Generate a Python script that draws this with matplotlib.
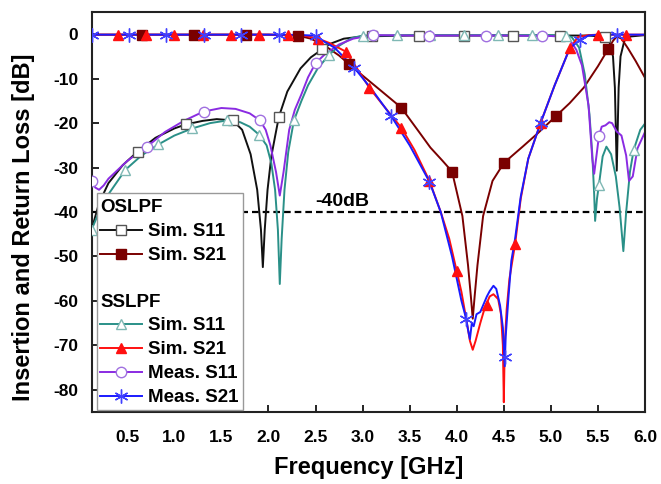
import matplotlib
matplotlib.use("Agg")
import matplotlib.pyplot as plt
from matplotlib.lines import Line2D
from matplotlib.patches import Rectangle
from matplotlib.font_manager import FontProperties

plt.rcParams['font.family'] = ['Liberation Sans', 'DejaVu Sans']
plt.rcParams['axes.unicode_minus'] = False

# ---------------- data ----------------
# OSLPF simulated S11 (black, open squares)
os_s11_f = [0.12, 0.2, 0.3, 0.45, 0.61, 0.8, 1.0, 1.12, 1.3, 1.45, 1.62, 1.72, 1.81, 1.88, 1.92, 1.94,
            1.96, 1.99, 2.03, 2.07, 2.11, 2.2, 2.34, 2.45, 2.57, 2.65, 2.8, 3.0, 3.5, 4.0, 4.5, 5.0,
            5.4, 5.58, 5.62, 5.66, 5.68, 5.70, 5.72, 5.74, 5.78, 5.85, 6.0]
os_s11_db = [-44, -38, -33.5, -29.5, -26.4, -23.3, -21.2, -20.3, -19.5, -19.1, -19.4, -21.5, -27, -35, -44, -52.4,
             -44, -35, -27.5, -23, -18.6, -12.9, -7.7, -5.2, -3.4, -2.2, -1.0, -0.5, -0.3, -0.3, -0.3, -0.3,
             -0.3, -0.6, -1.5, -5, -12, -30.7, -12, -5, -1.5, -0.5, -0.2]
os_s11_mk_f = [0.61, 1.12, 1.62, 2.11, 2.57, 3.1, 3.6, 4.08, 4.6, 5.1, 5.58]
os_s11_mk_db = [-26.4, -20.3, -19.4, -18.6, -3.4, -0.4, -0.3, -0.3, -0.3, -0.3, -0.6]

# OSLPF simulated S21 (dark red, filled squares)
os_s21_f = [0.12, 1.0, 2.0, 2.31, 2.45, 2.6, 2.75, 2.86, 3.0, 3.2, 3.41, 3.6, 3.72, 3.85, 3.95, 4.06,
            4.12, 4.15, 4.17, 4.19, 4.22, 4.28, 4.38, 4.50, 4.58, 4.70, 4.86, 5.05, 5.20, 5.35, 5.50,
            5.61, 5.66, 5.70, 5.75, 5.82, 5.90, 6.0]
os_s21_db = [-0.1, -0.1, -0.1, -0.3, -1.0, -2.6, -4.8, -6.8, -9.3, -12.8, -16.5, -22, -25.5, -28.5, -30.9, -40.9,
             -52, -59, -64, -59, -52, -40.9, -33, -29, -27.5, -25.3, -22.3, -18.5, -15.5, -12, -7.2,
             -3.3, -1.5, -0.5, -1.0, -3.2, -6, -9.8]
os_s21_mk_f = [0.66, 1.21, 1.76, 2.31, 2.86, 3.41, 3.95, 4.50, 5.05, 5.61]
os_s21_mk_db = [-0.1, -0.1, -0.1, -0.3, -6.8, -16.5, -30.9, -29, -18.5, -3.3]

# SSLPF simulated S11 (teal, open triangles)
ss_s11_f = [0.12, 0.2, 0.3, 0.48, 0.65, 0.83, 1.0, 1.19, 1.38, 1.56, 1.7, 1.8, 1.90, 1.98, 2.03, 2.07,
            2.10, 2.12, 2.14, 2.17, 2.21, 2.27, 2.35, 2.42, 2.52, 2.64, 2.75, 2.88, 3.0, 3.5, 4.0, 4.5,
            5.0, 5.15, 5.22, 5.30, 5.36, 5.41, 5.44, 5.46, 5.47, 5.49, 5.51, 5.55, 5.59, 5.64, 5.69,
            5.73, 5.77, 5.80, 5.84, 5.88, 5.95, 6.0]
ss_s11_db = [-44, -40, -36, -30.5, -27.3, -24.8, -22.8, -21.2, -20.0, -19.4, -19.8, -20.8, -22.6, -25, -29, -35,
             -44, -56.2, -46, -35, -26.5, -19.4, -15, -11.5, -7.8, -4.7, -2.6, -0.9, -0.3, -0.2, -0.2, -0.2,
             -0.2, -0.3, -0.6, -3, -9, -18, -27, -36, -42, -37, -34, -27.5, -25.3, -27, -32,
             -39, -48.8, -40, -31, -26, -21.5, -20.1]
ss_s11_mk_f = [0.12, 0.48, 0.83, 1.19, 1.56, 1.90, 2.27, 2.64, 3.0, 3.36, 3.72, 4.08, 4.44, 4.8, 5.16, 5.51, 5.88]
ss_s11_mk_db = [-44, -30.5, -24.8, -21.2, -19.4, -22.6, -19.4, -4.7, -0.3, -0.2, -0.2, -0.2, -0.2, -0.2, -0.3, -34, -26]

# SSLPF simulated S21 (red, filled triangles)
ss_s21_f = [0.12, 1.0, 2.0, 2.3, 2.4, 2.53, 2.65, 2.82, 2.95, 3.07, 3.2, 3.41, 3.55, 3.71, 3.83, 3.92,
            4.0, 4.05, 4.10, 4.14, 4.17, 4.20, 4.25, 4.30, 4.35, 4.39, 4.44, 4.47, 4.49, 4.50, 4.51,
            4.53, 4.56, 4.62, 4.68, 4.76, 4.89, 5.04, 5.20, 5.29, 5.4, 5.5, 6.0]
ss_s21_db = [-0.1, -0.1, -0.1, -0.2, -0.4, -1.0, -2.0, -3.9, -8, -12, -15.5, -21, -26, -33, -40, -46,
             -53.3, -58, -64, -69, -71, -69, -65, -61.4, -59, -58.5, -59.6, -63, -70, -82.8, -70,
             -62, -55, -47.2, -37, -28, -20, -11.5, -3.2, -0.6, -0.2, -0.1, -0.1]
ss_s21_mk_f = [0.4, 0.7, 1.0, 1.3, 1.6, 1.9, 2.21, 2.53, 2.82, 3.07, 3.41, 3.71, 4.0, 4.32, 4.62, 4.89, 5.20, 5.50, 5.80]
ss_s21_mk_db = [-0.1, -0.1, -0.1, -0.1, -0.1, -0.1, -0.2, -1.0, -3.9, -12, -21, -33, -53.3, -61, -47.2, -20, -3.2, -0.1, -0.1]

# SSLPF measured S11 (purple, open circles)
ms_s11_f = [0.12, 0.16, 0.2, 0.25, 0.3, 0.4, 0.5, 0.71, 0.9, 1.1, 1.31, 1.5, 1.65, 1.8, 1.91, 1.97,
            2.02, 2.08, 2.12, 2.16, 2.22, 2.28, 2.35, 2.42, 2.5, 2.6, 2.75, 2.9, 3.11, 3.5, 4.0, 4.5,
            5.0, 5.15, 5.2, 5.27, 5.33, 5.40, 5.44, 5.46, 5.49, 5.51, 5.54, 5.58, 5.62, 5.65, 5.70,
            5.75, 5.80, 5.83, 5.87, 5.92, 6.0]
ms_s11_db = [-33, -34.5, -35, -34, -32.5, -30.5, -28.5, -25.3, -22, -19.5, -17.4, -16.6, -16.8, -17.8, -19.4, -21.5,
             -25, -31, -36.3, -31, -21.5, -17, -13.5, -9.7, -6.5, -4.5, -2.3, -1.0, -0.2, -0.3, -0.3, -0.3,
             -0.4, -0.6, -1.2, -3.5, -7, -16, -28, -31.4, -26.4, -23, -20.8, -20.5, -19.8, -20, -21.9,
             -22.8, -27.3, -33, -32, -25.7, -22]
ms_s11_mk_f = [0.12, 0.71, 1.31, 1.91, 2.5, 3.11, 3.71, 4.31, 4.91, 5.51]
ms_s11_mk_db = [-33, -25.3, -17.4, -19.4, -6.5, -0.2, -0.3, -0.3, -0.3, -23]

# SSLPF measured S21 (blue, asterisks)
ms_s21_f = [0.12, 1.0, 2.0, 2.3, 2.48, 2.7, 2.91, 3.1, 3.30, 3.5, 3.71, 3.83, 3.95, 4.05, 4.10, 4.12,
            4.14, 4.16, 4.18, 4.21, 4.25, 4.28, 4.32, 4.35, 4.39, 4.42, 4.46, 4.49, 4.51, 4.52, 4.55,
            4.58, 4.62, 4.68, 4.76, 4.89, 5.04, 5.20, 5.31, 5.4, 5.5, 5.7, 6.0]
ms_s21_db = [-0.1, -0.1, -0.1, -0.15, -0.3, -3, -7.5, -12.5, -18.3, -25, -33.2, -40, -50, -60, -64, -66.5,
             -68.6, -65, -65.7, -63, -62.5, -61, -59, -57.8, -56.6, -57.3, -61, -66, -74.7, -68, -59,
             -51, -46, -36.5, -28, -20, -11.5, -3.2, -1.2, -0.3, -0.1, -0.1, -0.1]
ms_s21_mk_f = [0.13, 0.52, 0.91, 1.31, 1.71, 2.11, 2.50, 2.91, 3.30, 3.71, 4.10, 4.51, 4.89, 5.31, 5.70]
ms_s21_mk_db = [-0.1, -0.1, -0.1, -0.1, -0.1, -0.1, -0.3, -7.5, -18.3, -33.2, -64, -72.7, -20, -1.2, -0.1]

x_ticks = [0.5, 1.0, 1.5, 2.0, 2.5, 3.0, 3.5, 4.0, 4.5, 5.0, 5.5, 6.0]
x_ticklabels = ['0.5', '1.0', '1.5', '2.0', '2.5', '3.0', '3.5', '4.0', '4.5', '5.0', '5.5', '6.0']
y_ticks = [0, -10, -20, -30, -40, -50, -60, -70, -80]
y_ticklabels = ['0', '-10', '-20', '-30', '-40', '-50', '-60', '-70', '-80']
ref_level = -40

# ---------------- styles ----------------
C_BK = '#111111'
C_DR = '#7a0000'
C_TL = '#2a9088'
C_RD = '#ff1010'
C_PU = '#8a2be2'
C_BL = '#1a1aff'
ASTER = (6, 2, 0)

fig = plt.figure(figsize=(6.61, 4.84), dpi=100)
ax = fig.add_axes([92/661, 1-412/484, 553/661, 400/484])

series = [
    (os_s11_f, os_s11_db, os_s11_mk_f, os_s11_mk_db, C_BK, 's', 'white', '#555555', 6.5),
    (os_s21_f, os_s21_db, os_s21_mk_f, os_s21_mk_db, C_DR, 's', C_DR, C_DR, 6.5),
    (ss_s11_f, ss_s11_db, ss_s11_mk_f, ss_s11_mk_db, C_TL, '^', 'white', '#7fb8b4', 7.5),
    (ss_s21_f, ss_s21_db, ss_s21_mk_f, ss_s21_mk_db, C_RD, '^', C_RD, C_RD, 7.5),
    (ms_s11_f, ms_s11_db, ms_s11_mk_f, ms_s11_mk_db, C_PU, 'o', 'white', '#a070e0', 7.5),
    (ms_s21_f, ms_s21_db, ms_s21_mk_f, ms_s21_mk_db, C_BL, ASTER, C_BL, '#4040ff', 10),
]
handles = []
for f, d, mf, md, c, m, fc, ec, ms in series:
    ax.plot(f, d, color=c, lw=1.4, zorder=2)
    ax.plot(mf, md, ls='none', marker=m, ms=ms, mfc=fc, mec=ec, mew=1.0, zorder=3)
    handles.append(Line2D([], [], color=c, lw=1.4, marker=m, ms=ms, mfc=fc, mec=ec, mew=1.0))

ax.axhline(ref_level, color='black', lw=1.6, ls=(0, (3, 1.8)), zorder=1)
ax.text(2.78, ref_level + 0.4, '-40dB', fontsize=14, fontweight='bold', ha='center', va='bottom')

ax.set_xlim(0.125, 6.0)
ax.set_ylim(-85, 5)
ax.set_xticks(x_ticks)
ax.set_xticklabels(x_ticklabels)
ax.set_yticks(y_ticks)
ax.set_yticklabels(y_ticklabels)
ax.tick_params(direction='in', length=5, width=1.2, labelsize=12.5, top=False, right=False)
ax.tick_params(axis='x', pad=13)
ax.tick_params(axis='y', pad=10)
for lab in ax.get_xticklabels() + ax.get_yticklabels():
    lab.set_fontweight('bold')
for sp in ax.spines.values():
    sp.set_linewidth(1.5)
    sp.set_color('#222222')

ax.set_xlabel('Frequency [GHz]', fontsize=17, fontweight='bold')
ax.set_ylabel('Insertion and Return Loss [dB]', fontsize=17, fontweight='bold')
ax.xaxis.set_label_coords(0.5, -0.11)
ax.yaxis.set_label_coords(-0.103, 0.4625)

# legend box
x0 = (97 - 92) / 553
y0 = (412 - 410) / 400
w = (243 - 97) / 553
h = (410 - 193) / 400
ax.add_patch(Rectangle((x0, y0), w, h, transform=ax.transAxes, facecolor='white',
                       edgecolor='#999999', lw=1.0, zorder=4))
fp = FontProperties(family=['Liberation Sans', 'DejaVu Sans'], weight='bold', size=13.5)
common = dict(frameon=False, alignment='left', prop=fp, title_fontproperties=fp, handlelength=2.2,
              handletextpad=0.32, labelspacing=0.36, borderpad=0.3, borderaxespad=0, numpoints=1, loc='upper left')
leg1 = ax.legend(handles=handles[:2], labels=['Sim. S11', 'Sim. S21'], title='OSLPF',
                 bbox_to_anchor=(x0 - 0.004, y0 + h - 0.002), **common)
leg1.set_zorder(5)
ax.add_artist(leg1)
leg2 = ax.legend(handles=handles[2:], labels=['Sim. S11', 'Sim. S21', 'Meas. S11', 'Meas. S21'], title='SSLPF',
                 bbox_to_anchor=(x0 - 0.004, (412 - 288) / 400), **common)
leg2.set_zorder(5)

fig.savefig('out.png', dpi=100)
